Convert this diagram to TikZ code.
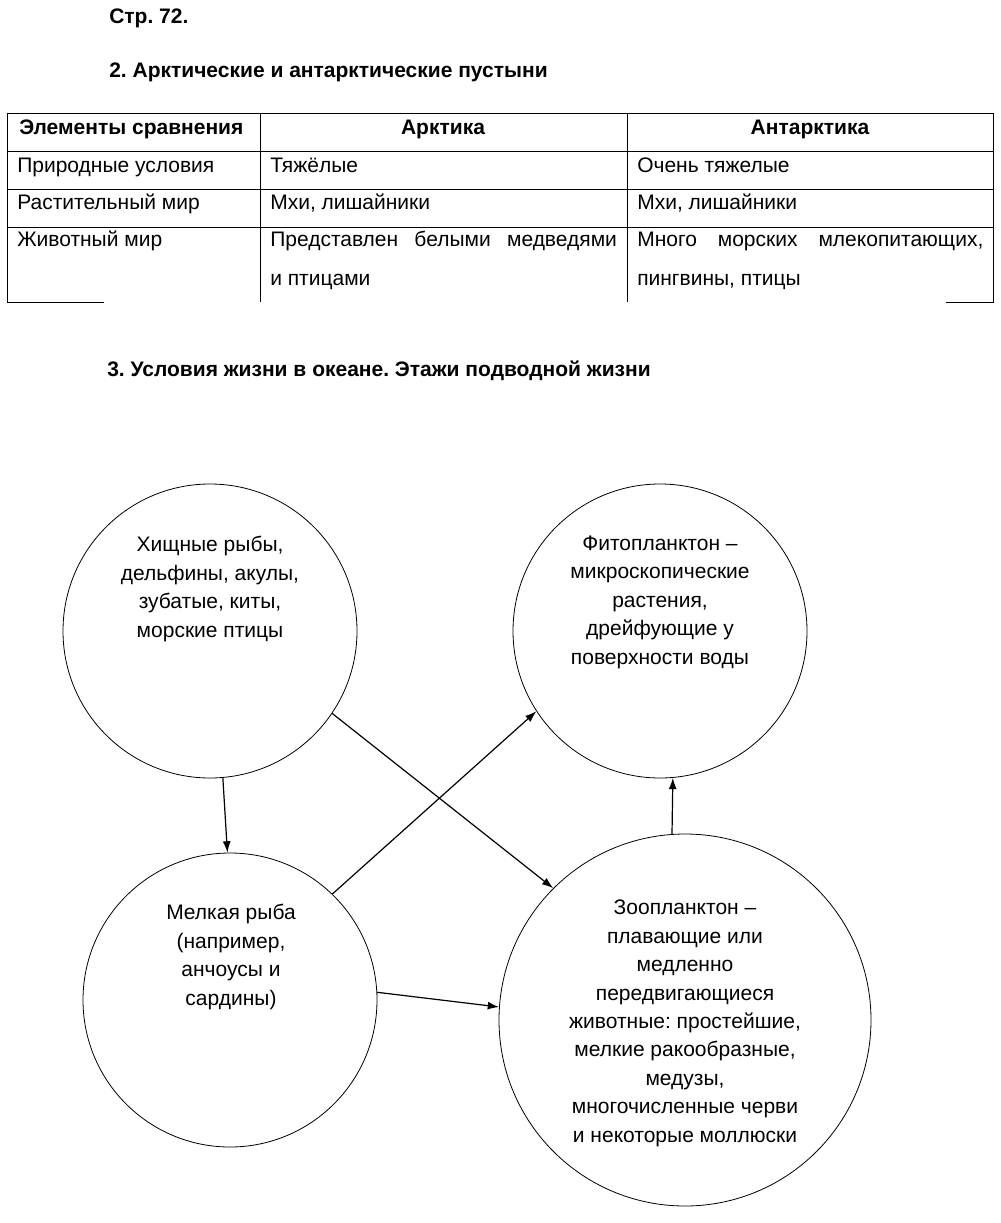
\documentclass[tikz,border=0pt]{standalone}
\usepackage{fontspec}
\setmainfont{Liberation Sans}
\usetikzlibrary{arrows.meta, positioning}
\frenchspacing

\begin{document}
\begin{tikzpicture}[x=0.75pt,y=-0.75pt,>={Latex[length=8.5pt,width=6pt]}]
    \tikzstyle{cell}=[anchor=base west,inner sep=0pt,font=\fontsize{15.75}{28.5}\selectfont]
    \tikzstyle{head}=[cell,font=\fontsize{15.75}{28.5}\selectfont\bfseries]
    \tikzstyle{bubble}=[shape=circle,draw,line width=0.6pt,minimum size=220.5pt,inner sep=0pt]
    \tikzstyle{bubbletext}=[anchor=base,align=center,inner sep=0pt,font=\fontsize{15.75}{21.3}\selectfont]

    \useasboundingbox (0,0) rectangle (1000,1223);

    % titles
    \node[head] (page) at (109,24) {Стр. 72.};
    \node[head] (task2) at (109,78) {2. Арктические и антарктические пустыни};
    \node[head] (task3) at (107,376) {3. Условия жизни в океане. Этажи подводной жизни};

    % table grid
    \draw[line width=0.6pt] (7,113) -- (993,113);
    \draw[line width=0.6pt] (7,151) -- (993,151);
    \draw[line width=0.6pt] (7,189) -- (993,189);
    \draw[line width=0.6pt] (7,227) -- (993,227);
    \draw[line width=0.6pt] (7,113) -- (7,302) -- (104,302);
    \draw[line width=0.6pt] (260,113) -- (260,302);
    \draw[line width=0.6pt] (627,113) -- (627,302);
    \draw[line width=0.6pt] (946,302) -- (993,302) -- (993,113);

    % table text
    \node[head] (h1) at (19,135) {Элементы сравнения};
    \node[head,anchor=base] (h2) at (443,135) {Арктика};
    \node[head,anchor=base] (h3) at (810,135) {Антарктика};

    \node[cell] (r1a) at (17,173) {Природные условия};
    \node[cell] (r1b) at (270,173) {Тяжёлые};
    \node[cell] (r1c) at (637,173) {Очень тяжелые};

    \node[cell] (r2a) at (17,210) {Растительный мир};
    \node[cell] (r2b) at (270,210) {Мхи, лишайники};
    \node[cell] (r2c) at (637,210) {Мхи, лишайники};

    \node[cell] (r3a) at (17,247) {Животный мир};
    \node[cell,align=left] (r3b) at (270,285)
      {\makebox[260pt][s]{Представлен белыми медведями}\\и птицами};
    \node[cell,align=left] (r3c) at (637,285)
      {\makebox[259.5pt][s]{Много морских млекопитающих,}\\пингвины, птицы};

    % ocean circles
    \node[bubble] (hunters) at (210,631) {};
    \node[bubble] (phyto) at (660,631) {};
    \node[bubble] (smallfish) at (230,1000) {};
    \node[bubble,minimum size=279pt] (zoo) at (685,1020) {};

    \node[bubbletext] (huntersT) at (210,637)
      {Хищные рыбы,\\дельфины, акулы,\\зубатые, киты,\\морские птицы};
    \node[bubbletext] (phytoT) at (660,664)
      {Фитопланктон –\\микроскопические\\растения,\\дрейфующие у\\поверхности воды};
    \node[bubbletext] (smallfishT) at (231,1005)
      {Мелкая рыба\\(например,\\анчоусы и\\сардины)};
    \node[bubbletext] (zooT) at (685,1142)
      {Зоопланктон –\\плавающие или\\медленно\\передвигающиеся\\животные: простейшие,\\мелкие ракообразные,\\медузы,\\многочисленные черви\\и некоторые моллюски};

    \path[line width=0.9pt]
    (hunters.-85) edge[->] (smallfish.91)
    (hunters.-34) edge[->] (zoo.135)
    (smallfish.46) edge[->] (phyto.213)
    (smallfish.3) edge[->] (zoo.176)
    (zoo.94) edge[->] (phyto.-85)
    ;

\end{tikzpicture}
\end{document}
